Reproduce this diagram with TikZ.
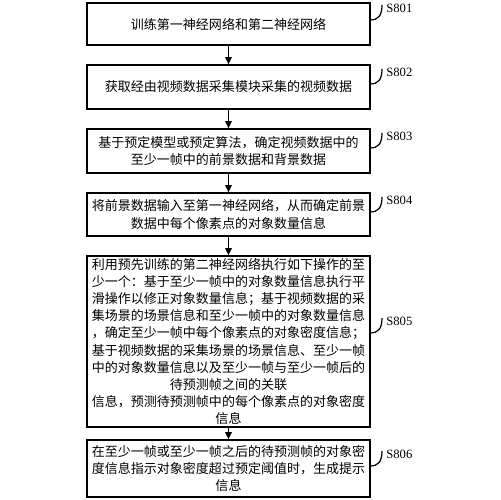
\documentclass[tikz,border=0pt]{standalone}
\usepackage{fontspec}
\setmainfont{Liberation Serif}
\newfontfamily\cjk{Noto Sans CJK SC}
\usepackage{tikz}
\usetikzlibrary{calc,positioning,arrows.meta}

\tikzset{
  stepbox/.style={draw, line width=0.9pt, text width=5.5cm, inner xsep=0.08cm,
    inner ysep=1pt, align=center, font=\cjk\fontsize{7.4pt}{9.7pt}\selectfont},
  steplabel/.style={anchor=west, inner sep=0pt, font=\fontsize{7.2pt}{8pt}\selectfont},
  flow/.style={line width=0.9pt, -{Triangle[length=4pt,width=3.6pt]}},
  leader/.style={line width=0.7pt}
}

\begin{document}
\begin{tikzpicture}[x=0.02cm, y=-0.02cm]
\useasboundingbox (0,0) rectangle (500,500);

% steps
\node[stepbox, minimum height=42*0.02cm] (s801) at (228.5,24)
  {训练第一神经网络和第二神经网络};
\node[stepbox, minimum height=44*0.02cm] (s802) at (228.5,87)
  {获取经由视频数据采集模块采集的视频数据};
\node[stepbox, minimum height=44*0.02cm] (s803) at (228.5,151)
  {基于预定模型或预定算法，确定视频数据中的\\至少一帧中的前景数据和背景数据};
\node[stepbox, minimum height=43*0.02cm] (s804) at (228.5,214.5)
  {将前景数据输入至第一神经网络，从而确定前景\\数据中每个像素点的对象数量信息};
\node[stepbox, minimum height=171*0.02cm] (s805) at (228.5,341.5)
  {利用预先训练的第二神经网络执行如下操作的至\\
   少一个：基于至少一帧中的对象数量信息执行平\\
   滑操作以修正对象数量信息；基于视频数据的采\\
   集场景的场景信息和至少一帧中的对象数量信息\\
   ，确定至少一帧中每个像素点的对象密度信息；\\
   基于视频数据的采集场景的场景信息、至少一帧\\
   中的对象数量信息以及至少一帧与至少一帧后的\\
   待预测帧之间的关联\\
   信息，预测待预测帧中的每个像素点的对象密度\\
   信息};
\node[stepbox, minimum height=57*0.02cm] (s806) at (228.5,468.5)
  {在至少一帧或至少一帧之后的待预测帧的对象密\\度信息指示对象密度超过预定阈值时，生成提示\\信息};

% labels
\node[steplabel] (l801) at (386,8) {S801};
\node[steplabel] (l802) at (386,72) {S802};
\node[steplabel] (l803) at (386,136) {S803};
\node[steplabel] (l804) at (386,200) {S804};
\node[steplabel] (l805) at (386,321) {S805};
\node[steplabel] (l806) at (386,454) {S806};

\draw[flow] (s801) -- (s802);
\draw[flow] (s802) -- (s803);
\draw[flow] (s803) -- (s804);
\draw[flow] (s804) -- (s805);
\draw[flow] (s805) -- (s806);

\foreach \n in {801,...,806}
  \draw[leader] ($(l\n.west)+(-16,12)$) .. controls ($(l\n.west)+(-8,12)$) and ($(l\n.west)+(-4,8)$) .. ($(l\n.west)+(-4,-3)$);
\end{tikzpicture}
\end{document}
